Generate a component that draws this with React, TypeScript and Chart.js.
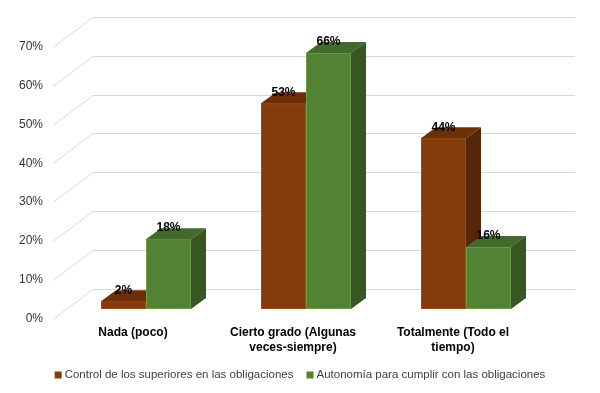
import React, { useEffect, useRef } from "react";
import { Chart, registerables } from "chart.js";

Chart.register(...registerables);

// ---- data ----
const categories: string[][] = [
  ["Nada (poco)"],
  ["Cierto grado (Algunas", "veces-siempre)"],
  ["Totalmente (Todo el", "tiempo)"],
];
const seriesNames = [
  "Control de los superiores en las obligaciones",
  "Autonomía para cumplir con las obligaciones",
];
const controlValues = [2, 53, 44];
const autonomiaValues = [18, 66, 16];
const yTickValues = [0, 10, 20, 30, 40, 50, 60, 70];

// ---- styles ----
const FONT = "'Liberation Sans', Arial, sans-serif";
const faceColors = [
  { front: "#843C0C", top: "#6B300A", side: "#552608", edge: "#A2490F" },
  { front: "#548235", top: "#436A2A", side: "#375623", edge: "#6A9E45" },
];
const BAR_DX = 15;
const BAR_DY = -11;
const FRONT_DX = -13;
const FRONT_DY = 9.5;
const WALL_DX = 40;
const WALL_DY = -30;

const threeD = {
  id: "threeD",
  beforeDatasetsDraw(chart: any) {
    const ctx = chart.ctx;
    const area = chart.chartArea;
    const ys = chart.scales.y;
    const fx = area.left + FRONT_DX;
    const bx = fx + WALL_DX;
    const rx = area.right + 29;
    ctx.save();
    ctx.strokeStyle = "#D9D9D9";
    ctx.lineWidth = 1;
    yTickValues.forEach((v) => {
      const yf = Math.round(ys.getPixelForValue(v) + FRONT_DY) + 0.5;
      const yb = yf + WALL_DY;
      ctx.beginPath();
      ctx.moveTo(fx, yf);
      ctx.lineTo(bx, yb);
      ctx.lineTo(rx, yb);
      ctx.stroke();
    });
    ctx.restore();
  },
  afterDatasetsDraw(chart: any) {
    const ctx = chart.ctx;
    ctx.save();
    chart.data.datasets.forEach((ds: any, di: number) => {
      const meta = chart.getDatasetMeta(di);
      const c = faceColors[di];
      meta.data.forEach((el: any) => {
        const { x, y, base, width } = el.getProps(["x", "y", "base", "width"], true);
        const l = x - width / 2;
        const r = x + width / 2;
        ctx.fillStyle = c.front;
        ctx.fillRect(l, y, width, base - y);
        ctx.strokeStyle = c.edge;
        ctx.lineWidth = 1;
        ctx.strokeRect(l + 0.5, y + 0.5, width - 1, base - y - 1);
        ctx.fillStyle = c.top;
        ctx.beginPath();
        ctx.moveTo(l, y);
        ctx.lineTo(l + BAR_DX, y + BAR_DY);
        ctx.lineTo(r + BAR_DX, y + BAR_DY);
        ctx.lineTo(r, y);
        ctx.closePath();
        ctx.fill();
        ctx.fillStyle = c.side;
        ctx.beginPath();
        ctx.moveTo(r, y);
        ctx.lineTo(r + BAR_DX, y + BAR_DY);
        ctx.lineTo(r + BAR_DX, base + BAR_DY);
        ctx.lineTo(r, base);
        ctx.closePath();
        ctx.fill();
      });
    });
    ctx.font = `bold 12px ${FONT}`;
    ctx.fillStyle = "#000000";
    ctx.textAlign = "center";
    ctx.textBaseline = "middle";
    chart.data.datasets.forEach((ds: any, di: number) => {
      const meta = chart.getDatasetMeta(di);
      meta.data.forEach((el: any, i: number) => {
        const { x, y } = el.getProps(["x", "y"], true);
        ctx.fillText(ds.data[i] + "%", x, y - 11);
      });
    });
    ctx.restore();
  },
  afterDraw(chart: any) {
    const ctx = chart.ctx;
    ctx.save();
    ctx.font = `11.5px ${FONT}`;
    ctx.textBaseline = "middle";
    ctx.textAlign = "left";
    const box = 7;
    const gap = 3;
    const itemGap = 13;
    const widths = seriesNames.map((n) => ctx.measureText(n).width);
    const total = widths.reduce((a, w) => a + box + gap + w, 0) + itemGap;
    let x = 300 - total / 2;
    const yc = 375;
    seriesNames.forEach((n, i) => {
      ctx.fillStyle = faceColors[i].front;
      ctx.fillRect(x, yc - box / 2, box, box);
      ctx.fillStyle = "#404040";
      ctx.fillText(n, x + box + gap, yc);
      x += box + gap + widths[i] + itemGap;
    });
    ctx.restore();
  },
};

export default function App() {
  const ref = useRef<HTMLCanvasElement | null>(null);
  useEffect(() => {
    if (!ref.current) return;
    const chart = new Chart(ref.current, {
      type: "bar",
      data: {
        labels: categories,
        datasets: [
          {
            label: seriesNames[0],
            data: controlValues,
            backgroundColor: faceColors[0].front,
            borderWidth: 0,
            categoryPercentage: 0.5625,
            barPercentage: 1,
          },
          {
            label: seriesNames[1],
            data: autonomiaValues,
            backgroundColor: faceColors[1].front,
            borderWidth: 0,
            categoryPercentage: 0.5625,
            barPercentage: 1,
          },
        ],
      },
      options: {
        responsive: false,
        devicePixelRatio: 1,
        animation: false,
        layout: { padding: { left: 0, right: 54, top: 37.4, bottom: 0 } },
        plugins: {
          legend: { display: false },
          tooltip: { enabled: false },
        },
        scales: {
          x: {
            grid: { display: false, drawTicks: false },
            border: { display: false },
            ticks: {
              font: { family: FONT, size: 12, weight: "bold", lineHeight: 1.25 },
              color: "#000000",
              padding: 16,
              labelOffset: FRONT_DX,
              maxRotation: 0,
              autoSkip: false,
            },
            afterFit: (s: any) => {
              s.height = 84;
            },
          },
          y: {
            min: 0,
            max: 70,
            grid: { display: false, drawTicks: false },
            border: { display: false },
            ticks: {
              stepSize: 10,
              autoSkip: false,
              font: { family: FONT, size: 12 },
              color: "#333333",
              padding: 23,
              labelOffset: FRONT_DY,
              callback: (v: any) => v + "%",
            },
            afterFit: (s: any) => {
              s.width = 66;
            },
          },
        },
      },
      plugins: [threeD],
    });
    return () => chart.destroy();
  }, []);
  return (
    <div style={{ position: "absolute", left: 0, top: 0, width: 600, height: 393, background: "#fff" }}>
      <canvas ref={ref} width={600} height={393} />
    </div>
  );
}
